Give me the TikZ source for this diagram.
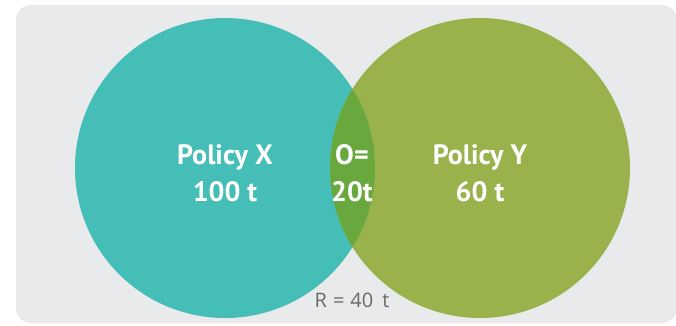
\documentclass[tikz,border=0pt]{standalone}
\usepackage{fontspec}
\setmainfont{PT Sans}
\newfontfamily\thinfont{Open Sans}
\usepackage{tikz}
\usetikzlibrary{positioning}

\definecolor{panelgray}{RGB}{233,234,236}
\definecolor{tealx}{RGB}{69,190,183}
\definecolor{greeny}{RGB}{154,178,76}
\definecolor{greeno}{RGB}{104,168,60}
\definecolor{labelgray}{RGB}{105,105,105}

\begin{document}
\begin{tikzpicture}[
  x=1pt, y=-1pt,
  policy/.style={circle, minimum size=300pt, inner sep=0pt, draw=none},
  label/.style={text=white, align=center, inner sep=0pt,
    font=\bfseries\fontsize{28}{37}\selectfont},
  note/.style={text=labelgray, inner sep=0pt, font=\thinfont\fontsize{20}{22}\selectfont},
]
  \useasboundingbox (0,0) rectangle (676,325);
  % background panel
  \fill[panelgray, rounded corners=15pt] (16,5) rectangle (677,323);

  % the two policy circles
  \node[policy, fill=tealx] (polx) at (225,168) {};
  \node[policy, fill=greeny] (poly) at (480,168) {};

  % overlap lens
  \begin{scope}
    \clip (polx.center) circle (150);
    \fill[greeno] (poly.center) circle (150);
  \end{scope}

  % labels
  \node[label] (labx) at (polx.center) [yshift=-5pt] {Policy X\\100 t};
  \node[label] (laby) at (poly.center) [yshift=-5pt] {Policy Y\\60 t};
  \node[label] (labo) at (352,173) {O=\\20t};
  \node[note, anchor=base] (rest) at (352,307)
    {R\hspace{6pt}=\hspace{6pt}40\hspace{9pt}t};
\end{tikzpicture}
\end{document}
